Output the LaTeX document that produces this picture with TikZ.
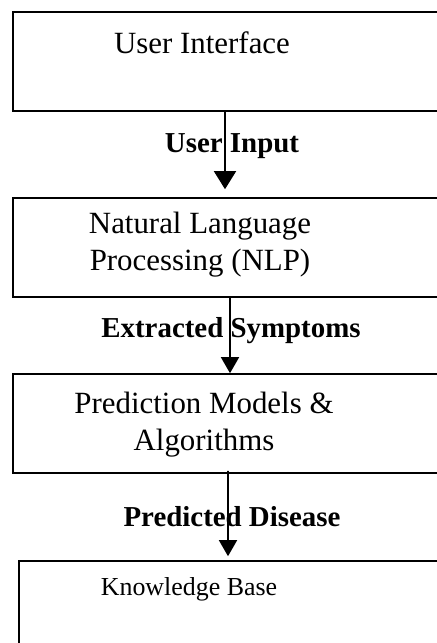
\documentclass[tikz,border=0pt]{standalone}
\usepackage{fontspec}
\setmainfont{Liberation Serif}
\usetikzlibrary{arrows.meta,positioning}
\tikzset{
  blk/.style={draw,rectangle,line width=1.6bp,minimum width=457bp,minimum height=99bp,inner sep=0pt},
  txt/.style={font=\fontsize{31}{37}\selectfont,align=center,inner sep=0pt},
  smtxt/.style={font=\fontsize{26}{31}\selectfont,inner sep=0pt},
  lbl/.style={font=\fontsize{29}{34}\selectfont\bfseries,inner sep=0pt},
  arr/.style={-{Triangle[width=18bp,length=16bp]},line width=1.6bp}
}
\begin{document}
\begin{tikzpicture}[x=1bp,y=-1bp]
  \useasboundingbox (0,0) rectangle (437,643);
  % Blocks
  \node[blk] (ui) at (241.5,61.5) {};
  \node[blk] (nlp) at (241.5,247.5) {};
  \node[blk] (pred) at (241.5,423.5) {};
  \node[blk] (kb) at (247.5,610.5) {};

  % Block texts
  \node[txt, anchor=base] (uitxt) at (202,54) {User Interface};
  \node[txt] (nlptxt) at (200,245) {Natural Language\\Processing (NLP)};
  \node[txt] (predtxt) at (204,425) {Prediction Models \&\\Algorithms};
  \node[smtxt, anchor=base] (kbtxt) at (189,595) {Knowledge Base};

  % Connections
  \draw[arr, -{Triangle[width=22bp,length=18bp]}, shorten >=8bp] ([xshift=-16.5bp] ui.south) -- ([xshift=-16.5bp] nlp.north);
  \draw[arr] ([xshift=-11.5bp] nlp.south) -- ([xshift=-11.5bp] pred.north);
  \draw[arr, shorten <=-3bp, shorten >=4bp] ([xshift=-13.5bp] pred.south) -- ([xshift=-19.5bp] kb.north);

  % Connection labels
  \node[lbl, anchor=base] (lblin) at (232,153) {User Input};
  \node[lbl, anchor=base] (lblsym) at (231,337) {Extracted Symptoms};
  \node[lbl, anchor=base] (lbldis) at (232,526) {Predicted Disease};
\end{tikzpicture}
\end{document}
